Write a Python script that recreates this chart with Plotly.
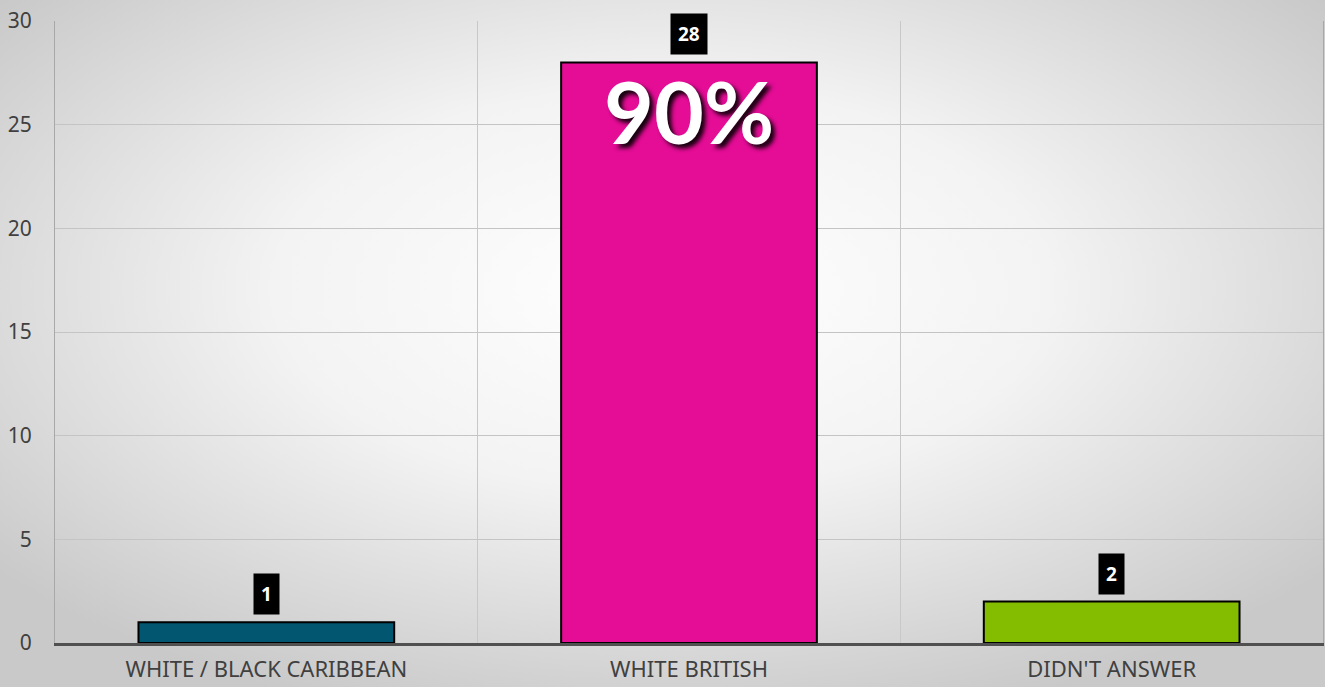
import base64
import plotly.graph_objects as go

categories = ["WHITE / BLACK CARIBBEAN", "WHITE BRITISH", "DIDN'T ANSWER"]
values = [1, 28, 2]
bar_colors = ["#02566F", "#E50C96", "#84BC00"]
y_ticks = [0, 5, 10, 15, 20, 25, 30]
highlight_index = 1

total = sum(values)
pct_text = f"{round(values[highlight_index] / total * 100)}%"

W, H = 1325, 687
ml, mr, mt, mb = 55, 2, 21, 44
pw, ph = W - ml - mr, H - mt - mb

svg = (
    f'<svg xmlns="http://www.w3.org/2000/svg" width="{W}" height="{H}" viewBox="0 0 {W} {H}" preserveAspectRatio="none">'
    '<defs><radialGradient id="g" cx="50%" cy="42%" r="65%">'
    '<stop offset="0%" stop-color="#ffffff"/>'
    '<stop offset="45%" stop-color="#f3f3f3"/>'
    '<stop offset="100%" stop-color="#c9c9c9"/>'
    '</radialGradient></defs>'
    f'<rect width="{W}" height="{H}" fill="url(#g)"/></svg>'
)
bg_uri = "data:image/svg+xml;base64," + base64.b64encode(svg.encode()).decode()

fig = go.Figure()
fig.add_trace(go.Bar(
    x=categories,
    y=values,
    marker=dict(color=bar_colors, line=dict(color="#000000", width=2)),
    hoverinfo="x+y",
))

annotations = []
for c, v in zip(categories, values):
    annotations.append(dict(
        x=c, y=v, xref="x", yref="y",
        text=f"<b>{v}</b>", showarrow=False,
        yanchor="bottom", yshift=7,
        font=dict(family="Open Sans, Noto Sans, sans-serif", size=19, color="#ffffff"),
        bgcolor="#000000", borderpad=7,
    ))
annotations.append(dict(
    x=categories[highlight_index], y=values[highlight_index], xref="x", yref="y",
    text=f"<b>{pct_text}</b>", showarrow=False, yanchor="top", yshift=5,
    font=dict(family="Lato, sans-serif", size=86, color="#ffffff",
              shadow="4px 4px 4px rgba(0,0,0,0.9)"),
))

fig.update_layout(
    width=W, height=H,
    margin=dict(l=ml, r=mr, t=mt, b=mb, pad=0, autoexpand=False),
    paper_bgcolor="#e0e0e0",
    plot_bgcolor="rgba(0,0,0,0)",
    bargap=0.395,
    showlegend=False,
    annotations=annotations,
    images=[dict(
        source=bg_uri, xref="paper", yref="paper",
        x=-ml / pw, y=1 + mt / ph, sizex=W / pw, sizey=H / ph,
        xanchor="left", yanchor="top", sizing="stretch", layer="below",
    )],
)
fig.update_xaxes(
    type="category", tickson="boundaries", ticks="", automargin=False,
    showgrid=True, gridcolor="#c8c8c8", gridwidth=1,
    showline=True, linecolor="#505050", linewidth=3,
    tickfont=dict(family="Noto Sans, Open Sans, sans-serif", size=22, color="#404040"),
    ticklabelstandoff=5,
)
fig.update_yaxes(
    range=[0, 30], tickvals=y_ticks, ticks="", automargin=False,
    showgrid=True, gridcolor="#c4c4c4", gridwidth=1,
    showline=True, linecolor="#a8a8a8", linewidth=1, mirror=True,
    zeroline=False,
    tickfont=dict(family="Noto Sans, Open Sans, sans-serif", size=21, color="#404040"),
    ticklabelstandoff=18,
)

fig.write_html("out.html")
